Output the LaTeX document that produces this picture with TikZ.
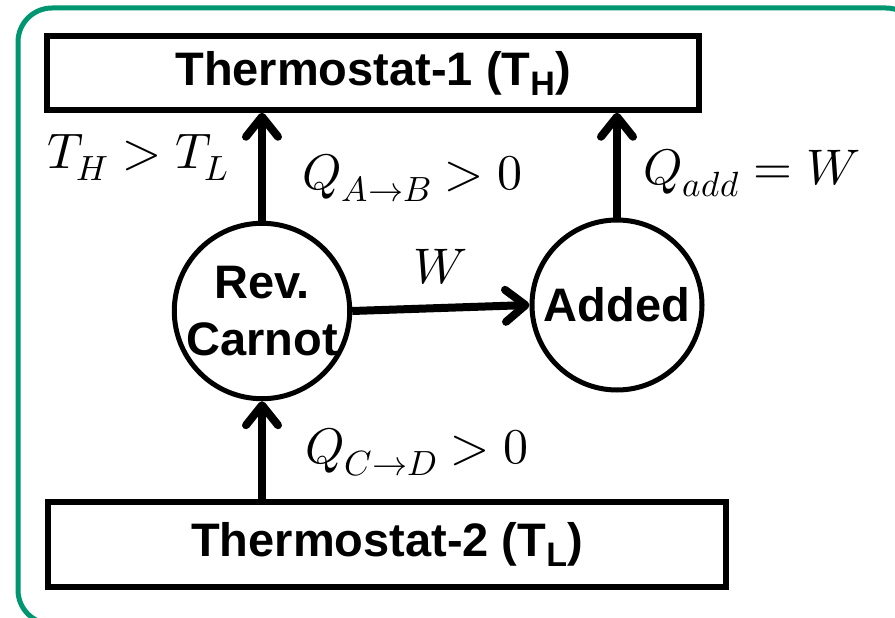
\documentclass[tikz,border=0pt]{standalone}
\usepackage{fontspec}
\usepackage{unicode-math}
\setmainfont{Liberation Sans}
\setmathfont{Latin Modern Math}
\usetikzlibrary{arrows.meta}
\definecolor{frame}{RGB}{0,150,112}
\newcommand{\sub}[1]{\raisebox{-10pt}{\fontsize{34}{34}\selectfont #1}}
\tikzset{
  box/.style={draw, line width=5.5pt, rectangle, inner sep=0pt, font=\fontsize{47}{56}\selectfont\bfseries},
  engine/.style={draw, line width=5pt, circle, inner sep=0pt, align=center, font=\fontsize{47}{57}\selectfont\bfseries},
  arr/.style={line width=8pt, -{Straight Barb[length=20pt, width=32pt, line cap=round, line join=round, line width=8pt]}},
  lab/.style={anchor=base west, inner sep=0pt, font=\fontsize{50}{58}\selectfont}
}
\begin{document}
\begin{tikzpicture}[x=1pt,y=-1pt]
\clip (0,0) rectangle (895,618);
\fill[white] (0,0) rectangle (895,618);
\draw[frame, line width=5pt, rounded corners=34pt] (18,8) rectangle (920,624);
\node[box, minimum width=652pt, minimum height=74pt] (top) at (373,73) {Thermostat-1 (T\sub{H})};
\node[box, minimum width=678pt, minimum height=85pt] (bot) at (387,544.5) {Thermostat-2 (T\sub{L})};
\node[engine, minimum size=174pt] (carnot) at (262,311) {Rev.\\Carnot};
\node[engine, minimum size=170pt] (added) at (617,305) {Added};
\draw[arr] (carnot.north) -- (carnot.north |- top.south);
\draw[arr] (added.north) -- (added.north |- top.south);
\draw[arr] (carnot.east) -- (added.west);
\draw[arr] (carnot.south |- bot.north) -- (carnot.south);
\node[lab] (tht) at (47,168) {$T_H > T_L$};
\node[lab] (qab) at (302,189) {$Q_{A\rightarrow B} > 0$};
\node[lab] (qadd) at (643,184) {$Q_{add} = W$};
\node[lab, anchor=center] (w) at (440,267) {$W$};
\node[lab] (qcd) at (305,463) {$Q_{C\rightarrow D} > 0$};
\end{tikzpicture}
\end{document}
